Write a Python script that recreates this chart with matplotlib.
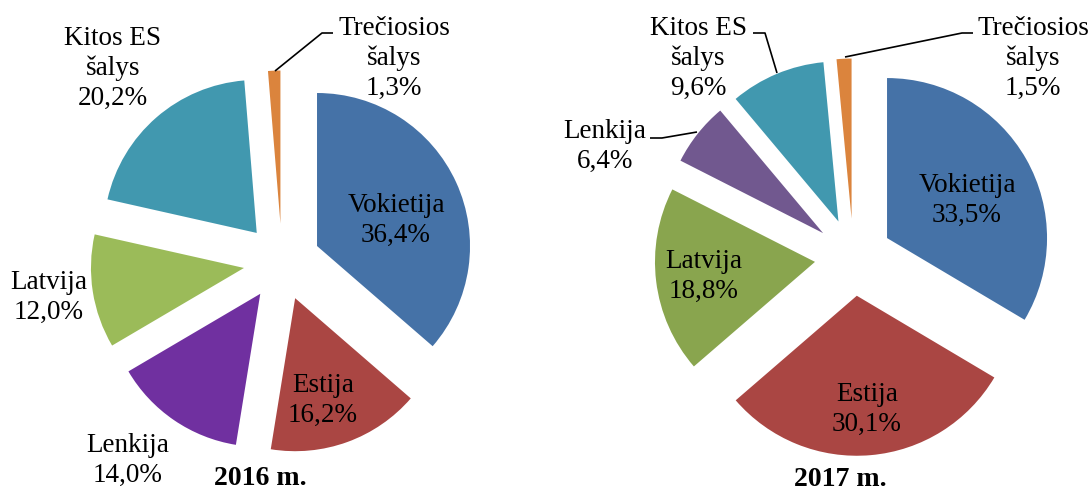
import matplotlib
matplotlib.use("Agg")
import matplotlib.pyplot as plt

plt.rcParams['font.family'] = ['Liberation Serif', 'DejaVu Serif']

# ---------------- data ----------------
cats_2016 = ["Vokietija", "Estija", "Lenkija", "Latvija", "Kitos ES\nšalys", "Trečiosios\nšalys"]
vals_2016 = [36.4, 16.2, 14.0, 12.0, 20.2, 1.3]
cols_2016 = ["#4572A7", "#AA4643", "#7030A0", "#9BBB59", "#4198AF", "#DB843D"]

cats_2017 = ["Vokietija", "Estija", "Latvija", "Lenkija", "Kitos ES\nšalys", "Trečiosios\nšalys"]
vals_2017 = [33.5, 30.1, 18.8, 6.4, 9.6, 1.5]
cols_2017 = ["#4572A7", "#AA4643", "#89A54E", "#71588F", "#4198AF", "#DB843D"]

titles = ["2016 m.", "2017 m."]

# ---------------- layout (pixel units) ----------------
W, H = 1090, 491
FS = 19.5

fig = plt.figure(figsize=(W / 100, H / 100), dpi=100)
ax = fig.add_axes([0, 0, 1, 1])
ax.set_xlim(0, W)
ax.set_ylim(0, H)
ax.axis('off')


def Y(p):
    return H - p


pies = [
    dict(cats=cats_2016, vals=vals_2016, cols=cols_2016, center=(282, 262), r=153, ex=38.5,
         labels=[(396, 212), (323, 392), (128, 452), (49, 289), (113, 45), (394, 35)],
         leaders={5: [(275, 71), (322, 33), (333, 33)]},
         title=(260, 485)),
    dict(cats=cats_2017, vals=vals_2017, cols=cols_2017, center=(853.4, 257.2), r=160, ex=38.7,
         labels=[(967, 192), (867, 401), (704, 268), (605, 138), (698, 35), (1033, 35)],
         leaders={3: [(697, 132), (662, 138), (650, 138)],
                  4: [(777, 73), (765, 33), (753, 33)],
                  5: [(845, 57), (962, 33), (973, 33)]},
         title=(840, 486)),
]

STEP = 30
for p, title in zip(pies, titles):
    cx, cy = p['center']
    ax.pie(p['vals'], colors=p['cols'], startangle=90, counterclock=False,
           radius=p['r'], center=(cx, Y(cy)), explode=[p['ex']] * len(p['vals']),
           wedgeprops=dict(linewidth=0), frame=True)
    for cat, val, (lx, ly) in zip(p['cats'], p['vals'], p['labels']):
        lines = cat.split("\n") + [f"{val:.1f}".replace(".", ",") + "%"]
        for i, line in enumerate(lines):
            ax.text(lx, Y(ly + i * STEP), line, ha='center', va='baseline',
                    fontsize=FS, color='black')
    for idx, pts in p['leaders'].items():
        xs = [q[0] for q in pts]
        ys = [Y(q[1]) for q in pts]
        ax.plot(xs, ys, color='black', lw=1.2, solid_capstyle='butt')
    tx, ty = p['title']
    ax.text(tx, Y(ty), title, ha='center', va='baseline', fontsize=20,
            fontweight='bold', color='black')

ax.set_xlim(0, W)
ax.set_ylim(0, H)
ax.set_aspect('auto')
ax.axis('off')
ax.set_position([0, 0, 1, 1])

fig.savefig("out.png", dpi=100)
